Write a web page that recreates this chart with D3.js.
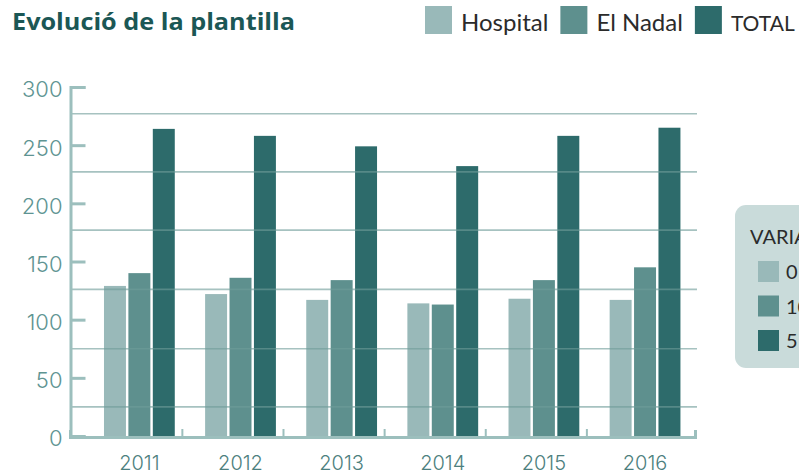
<!DOCTYPE html>
<html>
<head>
<meta charset="utf-8">
<script src="https://cdn.jsdelivr.net/npm/d3@7"></script>
<style>
  body { margin: 0; background: #fff; }
  svg { display: block; font-family: Lato, sans-serif; }
  .axis--y .domain, .axis--y .tick line { stroke: #9cbfbd; stroke-width: 3; }
  .axis--y .tick text { fill: #5e9492; font-family: Inter, sans-serif; font-weight: 300; font-size: 22px; }
  .axis--x .domain { stroke: #9cbfbd; stroke-width: 3; }
  .axis--x .tick text { fill: #4d7f7e; font-family: Inter, sans-serif; font-weight: 300; font-size: 20px; }
</style>
</head>
<body>
<div id="chart"></div>
<script>
const years = ['2011', '2012', '2013', '2014', '2015', '2016']
const series = ['Hospital', 'El Nadal', 'TOTAL']
const hospital = [129, 122, 117, 114, 118, 117]
const elNadal = [140, 136, 134, 113, 134, 145]
const total = [264, 258, 249, 232, 258, 265]
const yTicks = [0, 50, 100, 150, 200, 250, 300]
const gridValues = [25, 75, 126, 177, 227, 277]
const boxTitle = 'VARIACIÓ'
const boxItems = ['0', '10', '5']

const width = 799
const height = 476
const colors = { 'Hospital': '#99b9b9', 'El Nadal': '#5e908e', 'TOTAL': '#2d6b6b' }

const rows = years.map((yr, i) => ({
  year: yr,
  values: [hospital[i], elNadal[i], total[i]]
}))

const svg = d3.select('#chart')
  .append('svg')
  .attr('width', width)
  .attr('height', height)
  .attr('viewBox', [0, 0, width, height])

const y = d3.scaleLinear()
  .domain([0, 300])
  .range([436, 87])

const x = d3.scaleBand()
  .domain(years)
  .range([70, 695])
  .paddingInner(0.3)
  .paddingOuter(0.24)
  .align(0.7)

const xs = d3.scaleBand()
  .domain(series)
  .range([0, x.bandwidth()])
  .paddingInner(0.1)

// Title
svg.append('text')
  .attr('x', 12)
  .attr('y', 30)
  .attr('fill', '#1b5755')
  .attr('font-family', '"Open Sans", sans-serif')
  .attr('font-weight', 700)
  .attr('font-size', 24)
  .attr('textLength', 283)
  .attr('lengthAdjust', 'spacingAndGlyphs')
  .text('Evolució de la plantilla')

// Legend on top
const legend = svg.append('g').attr('class', 'legend')
let lx = 425
series.forEach((s, i) => {
  legend.append('rect')
    .attr('x', lx).attr('y', 6)
    .attr('width', 27).attr('height', 28)
    .attr('fill', colors[s])
  const t = legend.append('text')
    .attr('x', lx + 36).attr('y', 31)
    .attr('fill', '#2b2b2b')
    .attr('font-size', i === series.length - 1 ? 21 : 24) // last one squeezed against the edge
    .text(s)
  lx += 36 + t.node().getComputedTextLength() + 12
})

// Bars
const groups = svg.append('g')
  .selectAll('g')
  .data(rows)
  .join('g')
  .attr('transform', d => `translate(${x(d.year)},0)`)

groups.selectAll('rect')
  .data(d => d.values.map((v, i) => ({ key: series[i], value: v })))
  .join('rect')
  .attr('x', d => xs(d.key))
  .attr('width', xs.bandwidth())
  .attr('y', d => y(d.value))
  .attr('height', d => y(0) - y(d.value))
  .attr('fill', d => colors[d.key])

// Grid lines, drawn over the bars
svg.append('g')
  .attr('class', 'grid')
  .selectAll('line')
  .data(gridValues)
  .join('line')
  .attr('x1', 70)
  .attr('x2', 697)
  .attr('y1', d => y(d))
  .attr('y2', d => y(d))
  .attr('stroke', '#6f9c9a')
  .attr('stroke-opacity', 0.62)
  .attr('stroke-width', 1.6)

// Y axis (ticks point inward)
svg.append('g')
  .attr('class', 'axis axis--y')
  .attr('transform', 'translate(70.5,0)')
  .call(d3.axisLeft(y).tickValues(yTicks).tickSize(-15).tickPadding(8))
  .call(g => g.selectAll('.tick text').attr('dy', '0.45em'))

// X axis with year labels
svg.append('g')
  .attr('class', 'axis axis--x')
  .attr('transform', 'translate(0,437)')
  .call(d3.axisBottom(x).tickSize(0).tickSizeOuter(-7).tickPadding(19))

// Small separator ticks between years
svg.append('g')
  .selectAll('line')
  .data(years.slice(1))
  .join('line')
  .attr('x1', d => x(d) - x.step() * x.paddingInner() * 0.75)
  .attr('x2', d => x(d) - x.step() * x.paddingInner() * 0.75)
  .attr('y1', 437)
  .attr('y2', 429)
  .attr('stroke', '#9cbfbd')
  .attr('stroke-width', 2)

// Side box (cut at the right edge, as in the source)
const box = svg.append('g').attr('class', 'side-box')
box.append('rect')
  .attr('x', 735).attr('y', 205)
  .attr('width', 120).attr('height', 163)
  .attr('rx', 11)
  .attr('fill', '#c9dbda')
box.append('text')
  .attr('x', 750).attr('y', 244)
  .attr('fill', '#2b2b2b')
  .attr('font-size', 20)
  .text(boxTitle)
box.selectAll('g.item')
  .data(boxItems)
  .join('g')
  .attr('class', 'item')
  .attr('transform', (d, i) => `translate(758,${261 + i * 34.5})`)
  .call(g => g.append('rect')
    .attr('width', 21).attr('height', 21)
    .attr('fill', (d, i) => colors[series[i]]))
  .call(g => g.append('text')
    .attr('x', 28).attr('y', 18)
    .attr('fill', '#2b2b2b')
    .attr('font-size', 20)
    .text(d => d))
</script>
</body>
</html>
